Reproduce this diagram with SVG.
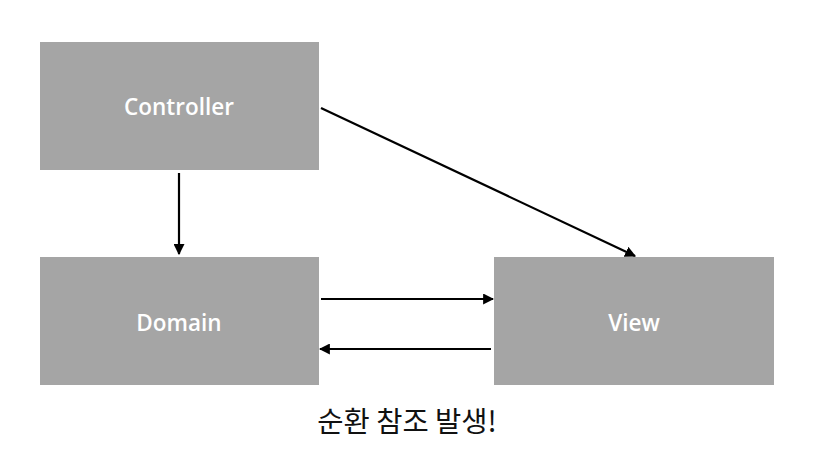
<svg xmlns="http://www.w3.org/2000/svg" width="819" height="461" viewBox="0 0 819 461">
<style>
.box{fill:#a5a5a5}
.lbl{fill:#fff;font-family:"Open Sans","Noto Sans",sans-serif;font-weight:600;font-size:22.5px;text-anchor:middle;dominant-baseline:central}
.ln{stroke:#000;stroke-width:2.2;fill:none;marker-end:url(#ah)}
.cap{fill:#111;font-family:"Noto Sans CJK KR",sans-serif;font-size:28.5px;text-anchor:middle}
</style>
<defs>
<marker id="ah" viewBox="0 0 10 10" refX="9" refY="5" markerWidth="5" markerHeight="5" orient="auto" markerUnits="strokeWidth">
<path d="M0,0 L10,5 L0,10 z" fill="#000"/>
</marker>
</defs>
<rect width="819" height="461" fill="#fff"/>
<g id="controller"><rect class="box" x="40" y="42" width="279" height="128"/><text class="lbl" x="179" y="106">Controller</text></g>
<g id="domain"><rect class="box" x="40" y="257" width="279" height="128"/><text class="lbl" x="179" y="322">Domain</text></g>
<g id="view"><rect class="box" x="494" y="257" width="280" height="128"/><text class="lbl" x="634" y="322">View</text></g>
<g id="connectors">
<line class="ln" x1="179" y1="173" x2="179" y2="254"/>
<line class="ln" x1="321" y1="299" x2="493" y2="299"/>
<line class="ln" x1="491" y1="349" x2="320" y2="349"/>
<line class="ln" x1="321" y1="108" x2="635" y2="256"/>
</g>
<text class="cap" x="407" y="432">순환 참조 발생!</text>
</svg>
